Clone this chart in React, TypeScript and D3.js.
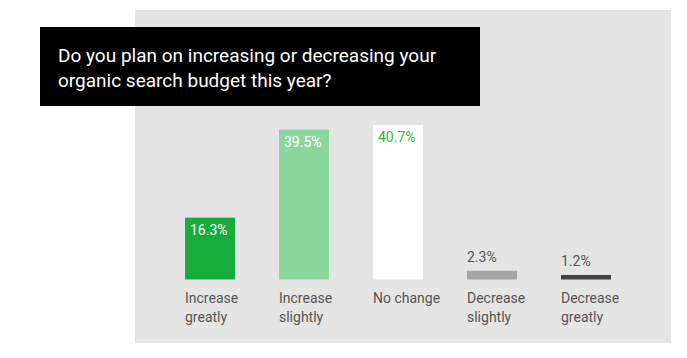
import React, { useRef, useEffect } from 'react';
import * as d3 from 'd3';

// survey answers
const categories = ['Increase greatly', 'Increase slightly', 'No change', 'Decrease slightly', 'Decrease greatly'];
const categoryLines = [['Increase', 'greatly'], ['Increase', 'slightly'], ['No change'], ['Decrease', 'slightly'], ['Decrease', 'greatly']];
const values = [16.3, 39.5, 40.7, 2.3, 1.2];
const barColors = ['#16ad3c', '#8ad69c', '#ffffff', '#a6a6a6', '#444444'];
const labelColors = ['#ffffff', '#ffffff', '#2db83d', '#555555', '#555555'];
const titleLines = ['Do you plan on increasing or decreasing your', 'organic search budget this year?'];

const App = () => {
  const svgRef = useRef<SVGSVGElement>(null);

  useEffect(() => {
    const width = 687;
    const height = 358;
    const baseline = 279.5;

    d3.select(svgRef.current).selectAll('*').remove();

    const svg = d3.select(svgRef.current)
      .attr('width', width)
      .attr('height', height)
      .style('font-family', 'Roboto, sans-serif');

    // grey panel
    svg.append('rect')
      .attr('x', 135)
      .attr('y', 10)
      .attr('width', 536)
      .attr('height', 333)
      .attr('fill', '#e5e5e5');

    // scales
    const x = d3.scaleBand()
      .domain(categories)
      .range([185, 611])
      .paddingInner(0.468)
      .paddingOuter(0);

    const y = d3.scaleLinear()
      .domain([0, d3.max(values) as number])
      .range([baseline, 125]);

    const data = categories.map((c, i) => ({ c, v: values[i], i }));

    // bars
    svg.selectAll('.bar')
      .data(data)
      .enter().append('rect')
      .attr('class', 'bar')
      .attr('x', d => x(d.c) as number)
      .attr('y', d => y(d.v))
      .attr('width', x.bandwidth())
      .attr('height', d => baseline - y(d.v))
      .attr('fill', d => barColors[d.i]);

    // value labels: inside bar for tall ones, above for short ones
    svg.selectAll('.val')
      .data(data)
      .enter().append('text')
      .attr('class', 'val')
      .attr('x', d => (x(d.c) as number) + (d.v > 10 ? 5 : 0))
      .attr('y', d => d.v > 10 ? y(d.v) + 17 : y(d.v) - 9)
      .attr('font-size', 14)
      .attr('fill', d => labelColors[d.i])
      .text(d => d.v.toFixed(1) + '%');

    // category labels
    const cat = svg.selectAll('.cat')
      .data(data)
      .enter().append('text')
      .attr('class', 'cat')
      .attr('font-size', 14)
      .attr('fill', '#555555');

    cat.selectAll('tspan')
      .data(d => categoryLines[d.i].map(w => ({ w, x: x(d.c) as number })))
      .enter().append('tspan')
      .attr('x', d => d.x)
      .attr('y', (d, i) => 303 + i * 19)
      .text(d => d.w);

    // title box
    svg.append('rect')
      .attr('x', 40)
      .attr('y', 27)
      .attr('width', 440)
      .attr('height', 79)
      .attr('fill', '#000000');

    svg.append('g')
      .selectAll('text')
      .data(titleLines)
      .enter().append('text')
      .attr('x', 58)
      .attr('y', (d, i) => 62 + i * 25)
      .attr('font-size', 19)
      .attr('fill', '#ffffff')
      .text(d => d);
  }, []);

  return (
    <svg ref={svgRef} style={{ position: 'absolute', left: 0, top: 0 }}></svg>
  );
};

export default App;
